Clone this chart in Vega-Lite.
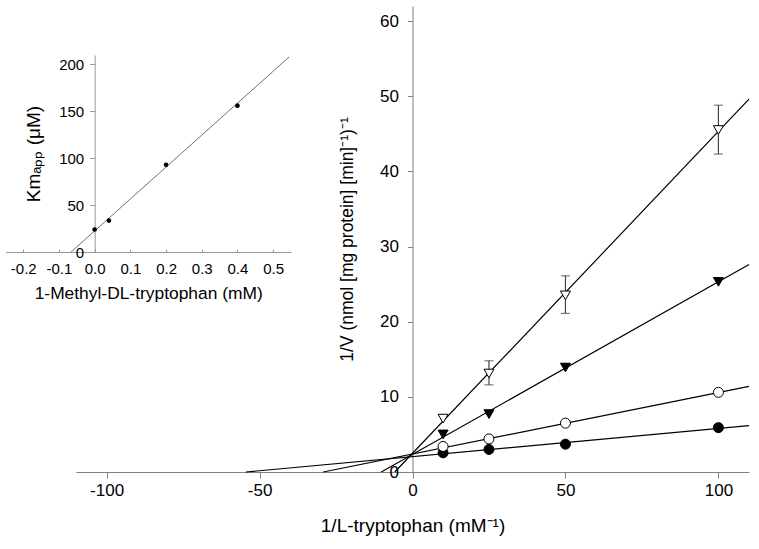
{
  "$schema": "https://vega.github.io/schema/vega-lite/v6.json",
  "width": 673,
  "height": 466,
  "autosize": {"type": "none"},
  "padding": {"left": 76, "top": 6, "right": 10, "bottom": 77},
  "background": "white",
  "config": {
    "view": {"stroke": null},
    "font": "Liberation Sans",
    "axis": {"grid": false, "labelFlush": false, "labelOverlap": false, "labelColor": "black", "titleColor": "black", "titleFontWeight": "normal", "labelFont": "Liberation Sans", "titleFont": "Liberation Sans"}
  },
  "datasets": {
    "fits": [
      {"s": "A", "x": -54.5, "y": 0}, {"s": "A", "x": 110, "y": 6.17},
      {"s": "B", "x": -29.2, "y": 0}, {"s": "B", "x": 110, "y": 11.4},
      {"s": "C", "x": -10.2, "y": 0}, {"s": "C", "x": 110, "y": 27.6},
      {"s": "D", "x": -5.8, "y": 0}, {"s": "D", "x": 110, "y": 49.6}
    ],
    "err": [
      {"x": 25, "lo": 11.6, "hi": 14.8},
      {"x": 50, "lo": 21.1, "hi": 26.1},
      {"x": 100, "lo": 42.3, "hi": 48.8}
    ],
    "pts": [
      {"s": "A", "x": 10, "y": 2.55}, {"s": "A", "x": 25, "y": 3.0}, {"s": "A", "x": 50, "y": 3.7}, {"s": "A", "x": 100, "y": 5.9},
      {"s": "B", "x": 10, "y": 3.4}, {"s": "B", "x": 25, "y": 4.4}, {"s": "B", "x": 50, "y": 6.5}, {"s": "B", "x": 100, "y": 10.6},
      {"s": "C", "x": 10, "y": 5.0}, {"s": "C", "x": 25, "y": 7.7}, {"s": "C", "x": 50, "y": 13.9}, {"s": "C", "x": 100, "y": 25.3},
      {"s": "D", "x": 10, "y": 7.1}, {"s": "D", "x": 25, "y": 13.1}, {"s": "D", "x": 50, "y": 23.5}, {"s": "D", "x": 100, "y": 45.5}
    ],
    "inset_fit": [{"c": -0.066, "km": 0}, {"c": 0.545, "km": 208}],
    "inset_pts": [{"c": 0, "km": 24}, {"c": 0.04, "km": 33.5}, {"c": 0.2, "km": 93}, {"c": 0.4, "km": 156}]
  },
  "layer": [
    {
      "layer": [
        {
          "data": {"name": "fits"},
          "mark": {"type": "line", "color": "black", "strokeWidth": 1.2, "clip": false},
          "encoding": {
            "x": {"field": "x", "type": "quantitative", "title": "1/L-tryptophan (mM⁻¹)",
              "scale": {"domain": [-110, 110], "nice": false, "zero": false},
              "axis": {"orient": "bottom", "values": [-100, -50, 0, 50, 100], "labelExpr": "replace(datum.label, '−', '-')", "tickSize": 6, "labelPadding": 4, "titlePadding": 18, "labelFontSize": 17, "titleFontSize": 19, "domainColor": "#808080", "tickColor": "#808080"}},
            "y": {"field": "y", "type": "quantitative", "title": "1/V (nmol [mg protein] [min]⁻¹)⁻¹",
              "scale": {"domain": [0, 62], "nice": false, "zero": false},
              "axis": {"orient": "left", "offset": -336.5, "values": [0, 10, 20, 30, 40, 50, 60], "tickSize": 5, "labelPadding": 9, "titlePadding": 23, "labelFontSize": 17, "titleFontSize": 17.5, "domainColor": "#808080", "tickColor": "#808080"}},
            "detail": {"field": "s"}
          }
        },
        {
          "data": {"name": "err"},
          "mark": {"type": "errorbar", "color": "#444444", "thickness": 1.2, "ticks": {"size": 9}},
          "encoding": {
            "x": {"field": "x", "type": "quantitative", "title": "1/L-tryptophan (mM⁻¹)"},
            "y": {"field": "lo", "type": "quantitative", "title": "1/V (nmol [mg protein] [min]⁻¹)⁻¹"},
            "y2": {"field": "hi", "title": null}
          }
        },
        {
          "data": {"name": "pts"},
          "mark": {"type": "point", "filled": true, "stroke": "black", "strokeWidth": 1, "opacity": 1, "size": 100},
          "encoding": {
            "x": {"field": "x", "type": "quantitative", "title": "1/L-tryptophan (mM⁻¹)"},
            "y": {"field": "y", "type": "quantitative", "title": "1/V (nmol [mg protein] [min]⁻¹)⁻¹"},
            "shape": {"field": "s", "type": "nominal", "scale": {"domain": ["A", "B", "C", "D"], "range": ["circle", "circle", "triangle-down", "triangle-down"]}, "legend": null},
            "fill": {"field": "s", "type": "nominal", "scale": {"domain": ["A", "B", "C", "D"], "range": ["black", "white", "black", "white"]}, "legend": null}
          }
        }
      ]
    },
    {
      "layer": [
        {
          "data": {"name": "inset_fit"},
          "mark": {"type": "line", "color": "#707070", "strokeWidth": 1, "clip": false},
          "encoding": {
            "x": {"field": "c", "type": "quantitative", "title": "1-Methyl-DL-tryptophan (mM)",
              "scale": {"domain": [-0.25, 0.55], "range": [-70.6, 215], "nice": false, "zero": false},
              "axis": {"orient": "bottom", "offset": -220, "values": [-0.2, -0.1, 0, 0.1, 0.2, 0.3, 0.4, 0.5], "format": ".1f", "labelExpr": "replace(datum.label, '−', '-')", "tickSize": -3, "labelPadding": 12, "titlePadding": 8, "labelFontSize": 15, "titleFontSize": 17.4, "domainColor": "#999999", "tickColor": "#999999"}},
            "y": {"field": "km", "type": "quantitative", "title": "Kmₐₚₚ (μM)",
              "scale": {"domain": [0, 210], "range": [246, 49], "nice": false, "zero": false},
              "axis": {"orient": "left", "offset": -18.7, "values": [0, 50, 100, 150, 200], "tickSize": 5, "labelPadding": 6, "titlePadding": 15, "labelFontSize": 15, "titleFontSize": 19, "domainColor": "#999999", "tickColor": "#999999"}}
          }
        },
        {
          "data": {"name": "inset_pts"},
          "mark": {"type": "circle", "color": "black", "opacity": 1, "size": 22},
          "encoding": {
            "x": {"field": "c", "type": "quantitative", "title": "1-Methyl-DL-tryptophan (mM)"},
            "y": {"field": "km", "type": "quantitative", "title": "Kmₐₚₚ (μM)"}
          }
        }
      ]
    }
  ],
  "resolve": {"scale": {"x": "independent", "y": "independent"}}
}
